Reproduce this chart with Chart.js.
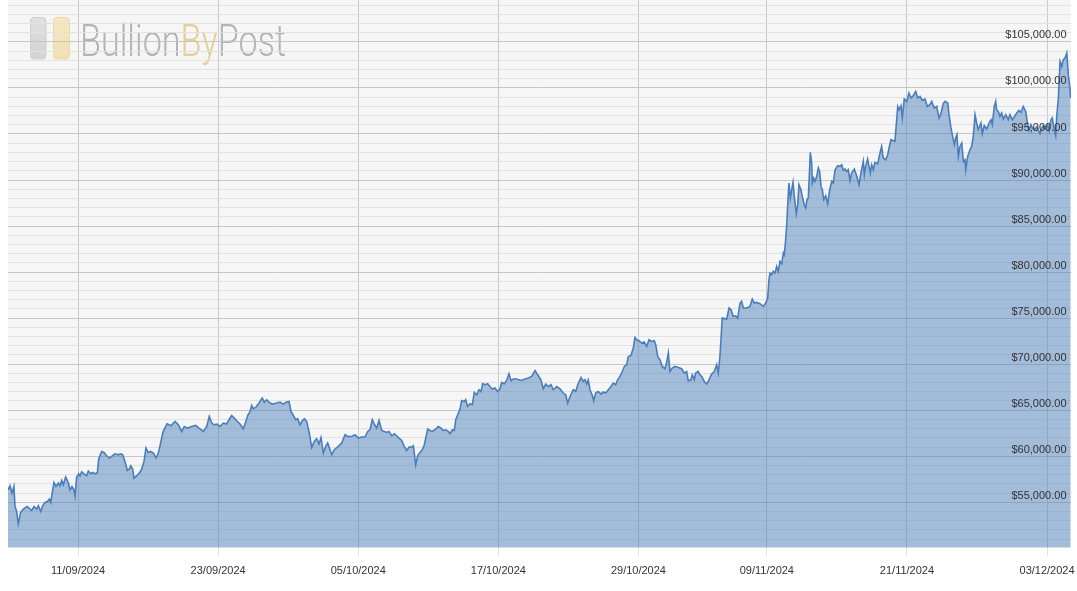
<!DOCTYPE html>
<html><head><meta charset="utf-8">
<script src="https://cdn.jsdelivr.net/npm/chart.js@4.4.1/dist/chart.umd.min.js"></script>
<style>html,body{margin:0;padding:0;background:#fff;}#wrap{width:1077px;height:591px;}</style>
</head><body><div id="wrap"><canvas id="c" width="1077" height="591"></canvas></div>
<script>
// Time in days since 05/09/2024 00:00, and BTC price in USD
const days = [
0,0.17,0.34,0.51,0.60,0.74,0.88,1.09,1.31,1.65,
2.03,2.23,2.46,2.60,2.80,2.97,3.17,3.37,3.54,3.66,
3.83,3.94,4.11,4.31,4.45,4.60,4.74,4.94,5.16,5.31,
5.48,5.65,5.74,5.88,6.06,6.17,6.31,6.51,6.74,6.88,
7.08,7.25,7.45,7.65,7.77,8.02,8.22,8.45,8.68,8.88,
9.16,9.45,9.65,9.82,10.02,10.22,10.39,10.51,10.68,10.79,
11.02,11.25,11.45,11.65,11.82,12.02,12.22,12.45,12.68,12.87,
12.96,13.28,13.62,13.96,
14.30,14.59,14.88,15.10,15.39,15.73,16.08,16.36,16.73,17.02,
17.24,17.45,17.67,17.88,18.16,18.44,18.73,18.93,19.16,19.38,
19.59,19.87,20.15,20.36,20.53,20.73,20.87,21.01,21.22,21.44,
21.58,21.78,21.95,22.16,22.36,22.64,23.01,23.30,23.58,23.87,
24.07,24.24,24.44,24.64,24.81,25.01,25.21,25.38,25.58,25.81,
26.01,26.24,26.44,26.64,26.81,27.01,27.21,27.38,27.58,27.73,
27.95,28.29,28.58,28.87,29.10,29.44,29.72,
30.01,30.30,30.58,30.81,31.01,31.20,31.37,31.58,31.78,32.01,
32.23,32.44,32.63,32.87,33.09,33.29,33.49,33.72,33.94,34.15,
34.35,34.58,34.72,34.80,34.92,35.09,35.29,35.49,35.66,35.78,
35.95,36.15,36.34,36.57,36.86,37.09,37.28,37.49,37.71,37.86,
38.06,38.23,38.35,38.52,38.72,38.86,39.08,39.20,39.37,39.57,
39.77,39.94,40.15,40.34,40.51,40.66,40.86,41.09,41.28,41.48,
41.71,41.94,42.14,42.29,42.51,42.71,42.91,43.08,43.28,43.57,
43.94,44.28,44.57,44.86,45.14,45.37,
45.65,45.85,46.06,46.28,46.51,46.71,47.00,47.28,47.56,47.77,
47.94,48.14,48.42,48.63,48.80,49.08,49.28,49.42,49.57,49.70,
49.85,50.05,50.17,50.34,50.56,50.79,50.99,51.19,51.42,51.65,
51.85,52.05,52.22,52.42,52.62,52.79,52.99,53.13,53.36,53.56,
53.70,53.85,54.05,54.28,54.50,54.71,54.90,55.13,55.36,55.48,
55.65,55.85,56.04,56.27,56.42,56.56,56.70,56.90,57.13,57.41,
57.70,57.93,58.13,58.27,58.50,58.61,58.78,58.90,59.12,59.27,
59.42,59.64,59.85,60.04,60.27,60.50,60.70,60.84,60.98,
61.18,61.56,61.76,61.93,62.12,62.33,62.50,62.70,62.84,62.98,
63.27,63.55,63.75,63.92,64.13,64.41,64.69,64.90,65.07,65.18,
65.27,65.41,65.55,65.70,65.84,65.98,66.12,66.27,66.41,66.49,
66.61,66.70,66.78,66.89,67.01,67.13,67.24,67.35,67.52,67.64,
67.75,67.92,68.03,68.21,68.33,68.44,68.55,68.67,68.72,68.84,
68.89,69.01,69.12,69.27,69.41,69.52,69.64,69.75,69.87,70.04,
70.21,70.38,70.56,70.69,70.84,71.07,71.26,71.41,71.55,71.69,
71.84,71.97,72.12,72.26,72.49,72.69,72.89,73.06,73.26,73.35,
73.46,73.63,73.75,73.86,73.98,74.12,74.26,74.49,74.69,74.83,
74.97,75.18,75.35,75.46,75.63,75.97,
76.21,76.32,76.49,76.60,76.77,76.98,77.17,77.34,77.54,77.75,
77.92,78.12,78.31,78.54,78.74,78.97,79.12,79.34,79.55,79.74,
79.91,80.11,80.26,80.49,80.60,80.77,80.88,81.06,81.17,81.28,
81.40,81.54,81.69,81.83,81.97,82.03,82.20,82.40,82.54,82.68,
82.83,82.97,83.11,83.34,83.45,83.62,83.83,84.03,84.20,84.31,
84.48,84.60,84.68,84.82,84.97,85.11,85.25,85.46,85.68,85.82,
86.02,86.19,86.40,86.59,86.77,86.96,87.17,87.34,87.45,87.62,
87.74,87.91,88.11,88.25,88.39,88.54,88.68,88.82,89.06,89.17,
89.34,89.45,89.54,89.62,89.74,89.83,89.97,90.11,90.26,90.39,
90.54,90.69,90.82,90.96,91.02
];
const prices = [
56300,56740,55940,56660,54490,53940,52610,53840,54200,54490,
54050,54490,54200,54560,53940,54560,54920,55030,55290,54920,
56300,57090,56660,57030,56740,57310,56840,57680,57090,56300,
56660,56300,55650,57680,58040,57820,58260,58040,57820,58330,
58040,58180,58040,58120,59640,60460,60350,60000,59750,59920,
60210,60100,60210,60100,59380,58400,58550,58910,58550,57570,
57820,58120,58550,59380,60830,60350,60460,60290,59750,60290,
60720,62600,63470,63250,
63720,63360,62640,63180,63000,63180,63290,63000,62640,63180,
64260,63550,63360,63440,63180,63550,63440,63910,64370,64090,
63800,63440,62930,63660,64370,64810,65460,65100,65240,65610,
65890,66260,65830,66080,65830,65610,65720,65830,65610,65830,
65890,64810,64370,63910,64020,63360,63800,64020,63720,62460,
60900,61550,61840,61270,61980,60290,61010,61380,60650,60100,
60650,61010,61380,62280,62090,62090,62280,
61920,62030,62030,62640,62820,63910,63470,63000,63830,62740,
62640,62530,62640,62170,62390,62170,61920,61660,61010,60570,
60940,60940,61080,60290,59020,60000,60350,60650,61190,61920,
62900,62740,62640,62820,63180,63000,62740,62820,62640,62390,
62820,62740,63910,64450,65070,66000,65890,66080,65350,65640,
65540,66870,66620,67170,66980,67820,67710,67820,67520,67240,
67350,66980,67240,67960,67820,68180,68900,68180,68330,68330,
68180,68330,68440,68610,69260,68790,
68250,67270,67780,67520,67710,67170,67520,67270,66810,66620,
65720,66440,67170,66980,67710,68500,68070,68250,67780,68250,
67170,66550,65970,66810,66980,66700,66920,66810,67170,67520,
67890,67710,68250,68610,69150,69700,69880,70780,70890,71700,
72850,72600,72490,72240,72350,71870,72600,72410,72490,72050,
70780,70420,69700,69450,70170,71150,69150,69520,69700,69590,
69450,68980,69150,68140,68250,68790,68250,68980,69150,68790,
68610,68070,67780,68250,68870,69150,69880,68980,70780,
74950,74850,76040,75860,75130,75200,74950,76580,76760,76040,
76040,76220,77020,76580,76650,76510,76220,76580,77130,79120,
79840,79660,80020,79840,80560,80020,81100,80850,82020,81830,
83460,85090,87080,89620,87990,88890,89690,88170,86290,87260,
89440,88890,88170,87260,86910,87810,87990,91430,92950,91790,
89620,90170,89800,90340,91250,90880,89250,88890,87810,88240,
87370,88890,89800,89620,91070,91500,91430,91610,90990,91140,
90880,91070,89900,90710,91140,90410,89440,90710,91970,90520,
91430,92220,91430,90710,91610,91070,91860,91720,92880,93600,
92340,92150,92700,93420,94330,94140,
97940,97580,98020,96680,98750,98490,99400,98860,99110,99570,
98860,99030,98600,98750,97940,98130,98490,97770,97940,96680,
97150,98240,98490,98310,97040,95600,94870,93780,94510,94870,
92510,93600,93970,91970,92150,91070,92510,93240,93600,94680,
97040,96140,95410,96140,94980,95850,95490,96140,96500,95960,
97940,98490,97580,97400,96860,97230,96570,97040,96500,97040,
96500,96790,97230,97510,97290,97940,97400,95960,95340,95960,
95600,95410,95710,95340,94980,95600,95850,95490,95960,95340,
96500,96680,95960,95410,94760,96860,98860,102830,102290,103020,
103200,103740,101390,99940,98860
];
if (days.length !== prices.length) throw new Error('length mismatch ' + days.length + ' vs ' + prices.length);

const tickDays = [6, 18, 30, 42, 54, 65, 77, 89];
const tickLabels = ['11/09/2024','23/09/2024','05/10/2024','17/10/2024','29/10/2024','09/11/2024','21/11/2024','03/12/2024'];
const xMin = 0, xMax = 91.05;
const yMin = 50000, yMax = 109500, yStep = 1000, yLabelStep = 5000;

function rr(ctx, x, y, w, h, r) {
  ctx.beginPath();
  ctx.moveTo(x + r, y);
  ctx.arcTo(x + w, y, x + w, y + h, r);
  ctx.arcTo(x + w, y + h, x, y + h, r);
  ctx.arcTo(x, y + h, x, y, r);
  ctx.arcTo(x, y, x + w, y, r);
  ctx.closePath();
}

const fmt = v => '$' + v.toLocaleString('en-US', {minimumFractionDigits: 2, maximumFractionDigits: 2});
const fontFamily = '"Liberation Sans", Arial, sans-serif';
const tickFont = {family: fontFamily, size: 11};

const bgPlugin = {
  id: 'bg',
  beforeDraw(chart) {
    const {ctx, chartArea: a} = chart;
    ctx.save();
    ctx.fillStyle = '#f6f6f6';
    ctx.fillRect(a.left, a.top, a.right - a.left, a.bottom - a.top);
    // watermark logo
    let g = ctx.createLinearGradient(0, 17, 0, 59);
    g.addColorStop(0, '#e0e0e0'); g.addColorStop(1, '#d3d3d3');
    rr(ctx, 30.5, 17.5, 15.5, 41.5, 3.5);
    ctx.fillStyle = g; ctx.fill();
    ctx.strokeStyle = '#d0d0d0'; ctx.lineWidth = 1; ctx.stroke();
    g = ctx.createLinearGradient(0, 17, 0, 59);
    g.addColorStop(0, '#f6e8c4'); g.addColorStop(1, '#f2e0b2');
    rr(ctx, 53.5, 17.5, 16, 41.5, 3.5);
    ctx.fillStyle = g; ctx.fill();
    ctx.strokeStyle = '#ecd9a6'; ctx.stroke();
    const parts = [['Bullion', '#b4b4b4'], ['By', '#e6cf90'], ['Post', '#b4b4b4']];
    ctx.font = '300 45px Roboto, "Liberation Sans", sans-serif';
    ctx.textBaseline = 'alphabetic';
    ctx.textAlign = 'left';
    let total = 0;
    const widths = parts.map(p => { const w = ctx.measureText(p[0]).width; total += w; return w; });
    ctx.translate(80, 55.5);
    ctx.scale(206 / total, 1);
    let x = 0;
    parts.forEach((p, i) => { ctx.fillStyle = p[1]; ctx.fillText(p[0], x, 0); x += widths[i]; });
    ctx.restore();
  },
  beforeDatasetsDraw(chart) {
    // horizontal grid: minor every 1000, major every 5000
    const {ctx, chartArea: a, scales: {y}} = chart;
    ctx.save();
    ctx.lineWidth = 1;
    for (let v = yMin; v <= yMax; v += yStep) {
      const py = Math.round(y.getPixelForValue(v)) + 0.5;
      if (py < a.top || py > a.bottom) continue;
      ctx.strokeStyle = (v % yLabelStep === 0) ? '#c6c6c6' : '#e2e2e2';
      ctx.beginPath(); ctx.moveTo(a.left, py); ctx.lineTo(a.right, py); ctx.stroke();
    }
    ctx.restore();
  },
  afterDatasetsDraw(chart) {
    const {ctx, chartArea: a, scales: {y}} = chart;
    ctx.save();
    ctx.font = '11px ' + fontFamily;
    ctx.fillStyle = '#333';
    ctx.textAlign = 'right';
    ctx.textBaseline = 'middle';
    for (let v = yMin + yLabelStep; v <= yMax; v += yLabelStep) {
      const py = y.getPixelForValue(v);
      ctx.fillText(fmt(v), a.right - 4.5, py - 6);
    }
    ctx.restore();
  }
};

new Chart(document.getElementById('c'), {
  type: 'line',
  data: {
    datasets: [{
      data: days.map((d, i) => ({x: d, y: prices[i]})),
      borderColor: '#4a7ebb',
      borderWidth: 1.6,
      backgroundColor: 'rgba(74,126,187,0.48)',
      fill: 'start',
      pointRadius: 0,
      tension: 0
    }]
  },
  options: {
    responsive: false,
    animation: false,
    devicePixelRatio: 1,
    layout: {padding: {left: 8, right: 6, top: 0, bottom: 4}},
    plugins: {legend: {display: false}, tooltip: {enabled: false}},
    scales: {
      x: {
        type: 'linear', min: xMin, max: xMax,
        afterBuildTicks: s => { s.ticks = tickDays.map(v => ({value: v})); },
        afterFit: s => { s.paddingLeft = 0; s.paddingRight = 0; },
        border: {display: false},
        grid: {color: '#c9c9c9', tickColor: '#e2e2e2', tickLength: 8, lineWidth: 1},
        ticks: {
          autoSkip: false, maxRotation: 0, padding: 9, color: '#333', font: tickFont,
          callback: v => tickLabels[tickDays.indexOf(v)]
        }
      },
      y: {
        display: false, min: yMin, max: yMax
      }
    }
  },
  plugins: [bgPlugin]
});
</script>
</body></html>
